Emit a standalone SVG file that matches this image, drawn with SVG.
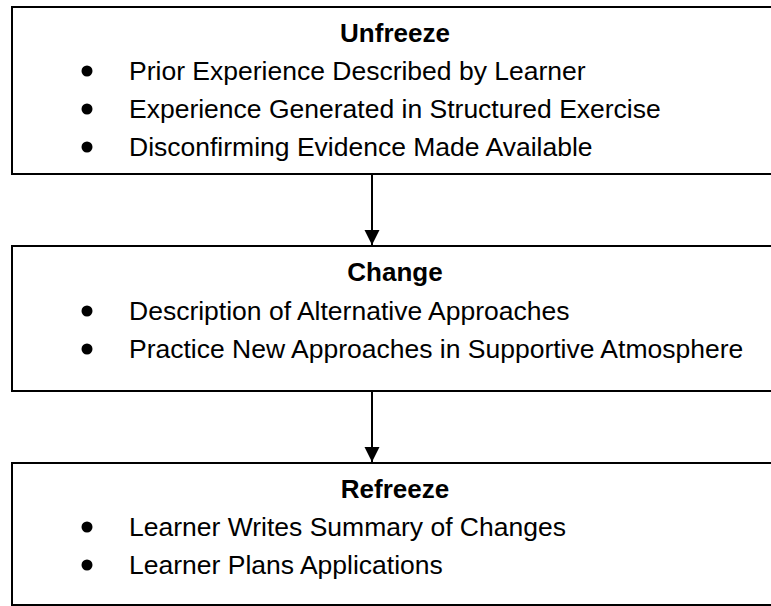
<svg xmlns="http://www.w3.org/2000/svg" width="771" height="606" viewBox="0 0 771 606">
  <style>
    .box { fill: #ffffff; stroke: #000000; stroke-width: 2; }
    .title { font-family: "Liberation Sans", Arial, sans-serif; font-size: 26px; font-weight: bold; fill: #000000; text-anchor: middle; }
    .item { font-family: "Liberation Sans", Arial, sans-serif; font-size: 26.5px; fill: #000000; }
    .dot { fill: #000000; }
    .conn { stroke: #000000; stroke-width: 2; fill: none; }
  </style>
  <defs>
    <marker id="arrow" markerUnits="userSpaceOnUse" markerWidth="16" markerHeight="16" refX="15" refY="7.5" orient="auto">
      <path d="M0,0 L15,7.5 L0,15 Z" fill="#000000"/>
    </marker>
  </defs>
  <rect width="771" height="606" fill="#ffffff"/>

  <g id="unfreeze">
    <rect class="box" x="12" y="7" width="780" height="167"/>
    <text class="title" x="395" y="42">Unfreeze</text>
    <circle class="dot" cx="87" cy="71" r="5.5"/>
    <text class="item" x="129" y="80">Prior Experience Described by Learner</text>
    <circle class="dot" cx="87" cy="109" r="5.5"/>
    <text class="item" x="129" y="118">Experience Generated in Structured Exercise</text>
    <circle class="dot" cx="87" cy="147" r="5.5"/>
    <text class="item" x="129" y="156">Disconfirming Evidence Made Available</text>
  </g>

  <g id="change">
    <rect class="box" x="12" y="246" width="780" height="145"/>
    <text class="title" x="395" y="281">Change</text>
    <circle class="dot" cx="87" cy="311" r="5.5"/>
    <text class="item" x="129" y="320">Description of Alternative Approaches</text>
    <circle class="dot" cx="87" cy="349" r="5.5"/>
    <text class="item" x="129" y="358">Practice New Approaches in Supportive Atmosphere</text>
  </g>

  <g id="refreeze">
    <rect class="box" x="12" y="463" width="780" height="142"/>
    <text class="title" x="395" y="498">Refreeze</text>
    <circle class="dot" cx="87" cy="527" r="5.5"/>
    <text class="item" x="129" y="536">Learner Writes Summary of Changes</text>
    <circle class="dot" cx="87" cy="565" r="5.5"/>
    <text class="item" x="129" y="574">Learner Plans Applications</text>
  </g>

  <g id="connectors">
    <line class="conn" x1="372" y1="175" x2="372" y2="245" marker-end="url(#arrow)"/>
    <line class="conn" x1="372" y1="392" x2="372" y2="462" marker-end="url(#arrow)"/>
  </g>
</svg>
